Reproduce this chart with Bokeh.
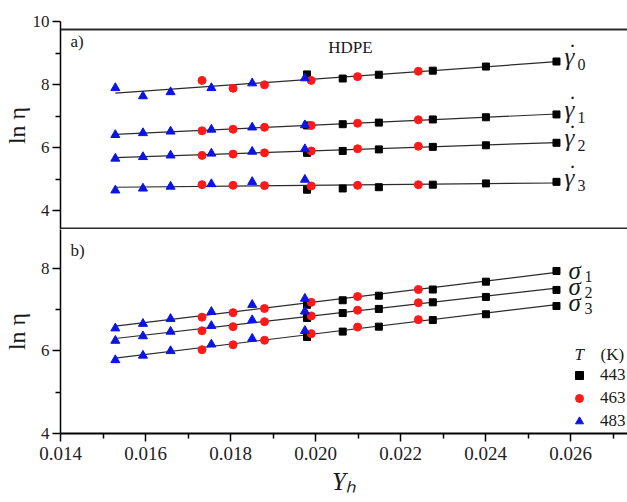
import numpy as np
from bokeh.plotting import figure
from bokeh.layouts import column
from bokeh.models import (Range1d, Span, Label, Legend, LegendItem, FixedTicker,
                          NumeralTickFormatter)
from bokeh.embed import file_html
from bokeh.resources import INLINE
from bokeh.core.properties import value

# ---------------- data ----------------
temps = ["443", "463", "483"]
x_443 = [0.01980, 0.02064, 0.02149, 0.02276, 0.02401, 0.02567]
x_463 = [0.01733, 0.01806, 0.01880, 0.01990, 0.02099, 0.02242]
x_483 = [0.01529, 0.01594, 0.01659, 0.01755, 0.01851, 0.01975]

# panel a) ln(eta) at constant shear rates gamma_0..gamma_3
g0_443 = [8.32, 8.19, 8.31, 8.44, 8.57, 8.73]
g0_463 = [8.13, 7.88, 7.99, 8.13, 8.25, 8.42]
g0_483 = [7.89, 7.63, 7.76, 7.89, 8.04, 8.20]
g1_443 = [6.70, 6.74, 6.79, 6.89, 6.96, 7.05]
g1_463 = [6.53, 6.58, 6.64, 6.70, 6.77, 6.88]
g1_483 = [6.40, 6.46, 6.51, 6.57, 6.64, 6.71]
g2_443 = [5.83, 5.89, 5.94, 6.02, 6.07, 6.15]
g2_463 = [5.75, 5.79, 5.83, 5.89, 5.96, 6.04]
g2_483 = [5.65, 5.70, 5.75, 5.81, 5.87, 5.95]
g3_443 = [4.66, 4.70, 4.74, 4.82, 4.86, 4.91]
g3_463 = [4.82, 4.80, 4.79, 4.78, 4.80, 4.82]
g3_483 = [4.64, 4.70, 4.76, 4.84, 4.91, 4.98]

# panel b) ln(eta) at constant stresses sigma_1..sigma_3
s1_443 = [7.12, 7.23, 7.34, 7.49, 7.68, 7.94]
s1_463 = [6.82, 6.93, 7.03, 7.18, 7.32, 7.49]
s1_483 = [6.55, 6.66, 6.78, 6.95, 7.12, 7.27]
s2_443 = [6.80, 6.92, 7.02, 7.18, 7.31, 7.48]
s2_463 = [6.49, 6.59, 6.71, 6.85, 6.99, 7.17]
s2_483 = [6.25, 6.36, 6.47, 6.61, 6.75, 6.96]
s3_443 = [6.34, 6.47, 6.59, 6.75, 6.89, 7.09]
s3_463 = [6.03, 6.15, 6.26, 6.42, 6.58, 6.76]
s3_483 = [5.78, 5.89, 6.00, 6.16, 6.30, 6.49]

gamma_rows = [(g0_443, g0_463, g0_483), (g1_443, g1_463, g1_483),
              (g2_443, g2_463, g2_483), (g3_443, g3_463, g3_483)]
gamma_subs = ["0", "1", "2", "3"]
sigma_rows = [(s1_443, s1_463, s1_483), (s2_443, s2_463, s2_483),
              (s3_443, s3_463, s3_483)]
sigma_subs = ["1", "2", "3"]

x_ticks = [0.014, 0.016, 0.018, 0.020, 0.022, 0.024, 0.026]
x_minor = [0.015, 0.017, 0.019, 0.021, 0.023, 0.025, 0.027]

# ---------------- styling ----------------
SERIF = "Liberation Serif"
LINE_C = "#2b2b2b"
TXT_C = "#1a1a1a"
COLS = {"443": "black", "463": "#ff1a1a", "483": "#0a14e6"}
MARK = {"443": ("square", 7), "463": ("circle", 8), "483": ("triangle", 9)}
xs_all = [x_443, x_463, x_483]


def style_axes(p):
    p.grid.visible = False
    p.outline_line_color = None
    p.background_fill_color = "white"
    p.border_fill_color = "white"
    for ax in p.axis:
        ax.axis_line_width = 1.5
        ax.axis_line_color = "black"
        ax.major_tick_out = 8
        ax.major_tick_in = 0
        ax.minor_tick_out = 5
        ax.minor_tick_in = 0
        ax.major_tick_line_width = 1.5
        ax.minor_tick_line_width = 1.5
        ax.major_label_text_font = SERIF
        ax.major_label_text_font_size = "17px"
        ax.major_label_text_color = "#222222"
        ax.major_label_standoff = 3
        ax.axis_label_text_font = SERIF
        ax.axis_label_text_font_style = "normal"
        ax.axis_label_text_color = TXT_C


def draw_rows(p, rows, subs, sym, sym_dx, sym_dy, sub_dx, sub_dy, dotted):
    rends = {}
    for row, sub in zip(rows, subs):
        xx = np.concatenate([np.array(v) for v in xs_all])
        yy = np.concatenate([np.array(v) for v in row])
        k, b = np.polyfit(xx, yy, 1)
        x0, x1 = xx.min(), xx.max()
        p.line([x0, x1], [k * x0 + b, k * x1 + b], line_color=LINE_C, line_width=1.2)
        for t, xv, yv in zip(temps, xs_all, row):
            m, s = MARK[t]
            r = p.scatter(xv, yv, marker=m, size=s, fill_color=COLS[t],
                          line_color=COLS[t])
            rends.setdefault(t, r)
        yend = k * x1 + b
        p.text([x1], [yend], text=[sym], text_font=value(SERIF), text_font_style="italic",
               text_font_size="25px", text_baseline="middle", text_align="left",
               x_offset=sym_dx, y_offset=sym_dy, text_color=TXT_C)
        if dotted:
            p.text([x1], [yend], text=["\u02d9"], text_font=value(SERIF),
                   text_font_size="24px", text_baseline="middle", text_align="center",
                   x_offset=sym_dx + 8, y_offset=sym_dy - 5, text_color=TXT_C)
        p.text([x1], [yend], text=[sub], text_font=value(SERIF),
               text_font_size="16px", text_baseline="middle", text_align="left",
               x_offset=sub_dx, y_offset=sub_dy, text_color=TXT_C)
    return rends


# ---------------- panel a ----------------
p1 = figure(width=627, height=229, x_range=Range1d(0.014, 0.027341),
            y_range=Range1d(3.397, 10.0), output_backend="svg", toolbar_location=None,
            min_border_left=60, min_border_right=0, min_border_top=21, min_border_bottom=0)
p1.xaxis.visible = False
p1.yaxis.ticker = FixedTicker(ticks=[4, 6, 8, 10], minor_ticks=[5, 7, 9])
style_axes(p1)
p1.yaxis.axis_label = "ln \u03b7"
p1.yaxis.axis_label_text_font_size = "24px"
p1.yaxis.axis_label_standoff = 0
draw_rows(p1, gamma_rows, gamma_subs, "\u03b3", 8, -5, 21, 3, True)
p1.add_layout(Span(location=9.75, dimension="width", line_color=LINE_C, line_width=2))
p1.add_layout(Span(location=3.43, dimension="width", line_color=LINE_C, line_width=2))
p1.add_layout(Label(x=10, y=188, x_units="screen", y_units="screen", text="a)",
                    text_font=SERIF, text_font_size="17px", text_baseline="middle",
                    text_color=TXT_C))
p1.add_layout(Label(x=290, y=182, x_units="screen", y_units="screen", text="HDPE",
                    text_font=SERIF, text_font_size="17px", text_baseline="middle",
                    text_align="center", text_color=TXT_C))

# ---------------- panel b ----------------
p2 = figure(width=627, height=273, x_range=p1.x_range,
            y_range=Range1d(4.0, 8.945), output_backend="svg", toolbar_location=None,
            min_border_left=60, min_border_right=0, min_border_top=0, min_border_bottom=69)
p2.yaxis.ticker = FixedTicker(ticks=[4, 6, 8], minor_ticks=[5, 7])
p2.xaxis.ticker = FixedTicker(ticks=x_ticks, minor_ticks=x_minor)
p2.xaxis.formatter = NumeralTickFormatter(format="0.000")
style_axes(p2)
p2.xaxis.axis_line_width = 2
p2.xaxis.major_label_text_font_size = "19px"
p2.xaxis.major_label_standoff = 5
p2.yaxis.axis_label = "ln \u03b7"
p2.yaxis.axis_label_text_font_size = "24px"
p2.yaxis.axis_label_standoff = 8
p2.xaxis.axis_label = "Y\u2095"
p2.xaxis.axis_label_text_font_style = "italic"
p2.xaxis.axis_label_text_font_size = "25px"
p2.xaxis.axis_label_standoff = 5
rends = draw_rows(p2, sigma_rows, sigma_subs, "\u03c3", 12, -2, 28, 4, False)
legend = Legend(items=[LegendItem(label=t, renderers=[rends[t]]) for t in temps],
                location=(509, 2), glyph_width=20, glyph_height=20, label_height=20,
                spacing=3, padding=0, margin=0, border_line_color=None,
                background_fill_alpha=0, label_text_font=SERIF,
                label_text_font_size="17px", label_standoff=11,
                label_text_color=TXT_C)
p2.add_layout(legend)
p2.add_layout(Label(x=514, y=79, x_units="screen", y_units="screen", text="T",
                    text_font=SERIF, text_font_style="italic", text_font_size="17px",
                    text_baseline="middle", text_color=TXT_C))
p2.add_layout(Label(x=540, y=79, x_units="screen", y_units="screen", text="(K)",
                    text_font=SERIF, text_font_size="17px", text_baseline="middle",
                    text_color=TXT_C))
p2.add_layout(Label(x=10, y=183, x_units="screen", y_units="screen", text="b)",
                    text_font=SERIF, text_font_size="17px", text_baseline="middle",
                    text_color=TXT_C))

layout = column(p1, p2, spacing=0)
open("out.html", "w").write(file_html(layout, INLINE))
